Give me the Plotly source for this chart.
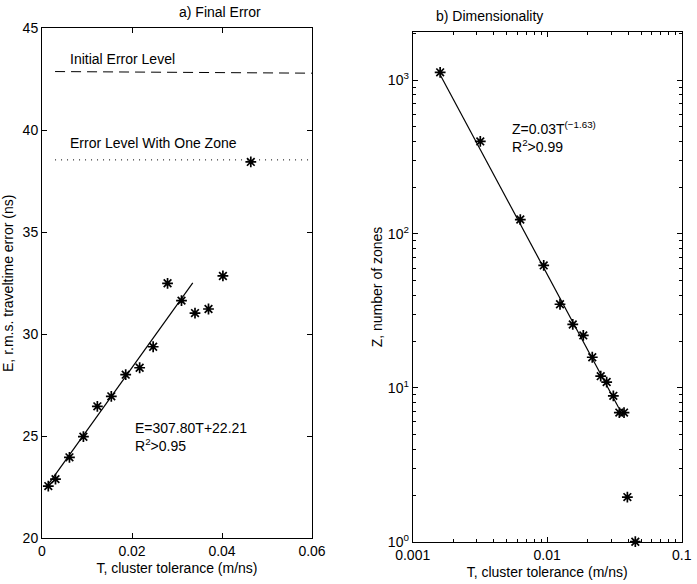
import plotly.graph_objects as go

# ---- Panel a) Final Error ----
t_err = [0.0014, 0.0030, 0.0061, 0.0092, 0.0123, 0.0154, 0.0186, 0.0217, 0.0247,
         0.0279, 0.0310, 0.0340, 0.0370, 0.0402, 0.0464]
e_err = [22.56, 22.90, 23.97, 24.98, 26.47, 26.96, 28.02, 28.36, 29.39,
         32.50, 31.65, 31.04, 31.24, 32.86, 38.45]
fit_a_t = [0.0014, 0.0335]
fit_a_slope, fit_a_icpt = 307.80, 22.21
initial_level_t = [0.0029, 0.06]
initial_level_e = [42.88, 42.80]
one_zone_t = [0.0029, 0.06]
one_zone_e = [38.55, 38.55]

# ---- Panel b) Dimensionality ----
t_dim = [0.00160, 0.00318, 0.00631, 0.00942, 0.01245, 0.01549, 0.01855, 0.02163,
         0.02500, 0.02768, 0.03103, 0.03438, 0.03725, 0.03945, 0.04520]
z_dim = [1122, 399, 124, 62.4, 34.9, 25.8, 21.9, 15.8, 11.9, 10.9, 8.87, 6.9, 6.9, 1.95, 1.0]
fit_b_t = [0.00160, 0.0340]
fit_b_a, fit_b_p = 0.03, -1.63

FONT = "Liberation Sans, Arial, Helvetica, sans-serif"
BLACK = "black"

fig = go.Figure()

# panel a traces
fig.add_trace(go.Scatter(x=initial_level_t, y=initial_level_e, mode="lines",
                         line=dict(color=BLACK, width=1, dash="10px,6px"),
                         xaxis="x", yaxis="y", showlegend=False))
fig.add_trace(go.Scatter(x=one_zone_t, y=one_zone_e, mode="lines",
                         line=dict(color=BLACK, width=1, dash="1px,5px"),
                         xaxis="x", yaxis="y", showlegend=False))
fig.add_trace(go.Scatter(x=fit_a_t, y=[fit_a_slope * t + fit_a_icpt for t in fit_a_t],
                         mode="lines", line=dict(color=BLACK, width=1.2),
                         xaxis="x", yaxis="y", showlegend=False))
fig.add_trace(go.Scatter(x=t_err, y=e_err, mode="markers",
                         marker=dict(symbol="asterisk-open", size=9, color=BLACK,
                                     line=dict(color=BLACK, width=1.7)),
                         xaxis="x", yaxis="y", showlegend=False))

# panel b traces
fig.add_trace(go.Scatter(x=fit_b_t, y=[fit_b_a * t ** fit_b_p for t in fit_b_t],
                         mode="lines", line=dict(color=BLACK, width=1.2),
                         xaxis="x2", yaxis="y2", showlegend=False))
fig.add_trace(go.Scatter(x=t_dim, y=z_dim, mode="markers",
                         marker=dict(symbol="asterisk-open", size=9, color=BLACK,
                                     line=dict(color=BLACK, width=1.7)),
                         xaxis="x2", yaxis="y2", showlegend=False, cliponaxis=False))

W, H = 697, 584
ax_common = dict(showline=True, linecolor=BLACK, linewidth=1, mirror="ticks",
                 ticks="inside", ticklen=5, tickcolor=BLACK, showgrid=False,
                 zeroline=False, automargin=False,
                 tickfont=dict(family=FONT, size=14, color=BLACK),
                 title_font=dict(family=FONT, size=14, color=BLACK))

fig.update_layout(
    width=W, height=H,
    margin=dict(l=0, r=0, t=0, b=0, autoexpand=False),
    paper_bgcolor="white", plot_bgcolor="white",
    font=dict(family=FONT, size=14, color=BLACK),
    xaxis=dict(**ax_common, domain=[42 / W, 312 / W], range=[0, 0.06],
               tickvals=[0, 0.02, 0.04, 0.06], ticktext=["0", "0.02", "0.04", "0.06"],
               title=dict(text="T, cluster tolerance (m/ns)", standoff=5),
               anchor="y"),
    yaxis=dict(**ax_common, domain=[1 - 538.3 / H, 1 - 28.3 / H], range=[20, 45],
               tickvals=[20, 25, 30, 35, 40, 45],
               title=dict(text="E, r.m.s. traveltime error (ns)", standoff=5),
               anchor="x"),
    xaxis2=dict(**ax_common, domain=[412.7 / W, 681.7 / W], type="log",
                range=[-3, -1], tickvals=[0.001, 0.01, 0.1],
                ticktext=["0.001", "0.01", "0.1"],
                minor=dict(ticks="inside", ticklen=3, tickcolor=BLACK,
                           tickvals=[k * 10 ** e for e in (-3, -2) for k in range(2, 10)]),
                title=dict(text="T, cluster tolerance (m/ns)", standoff=5),
                anchor="y2"),
    yaxis2=dict(**ax_common, domain=[1 - 541.7 / H, 1 - 32.3 / H], type="log",
                range=[0, 3.31], tickvals=[1, 10, 100, 1000],
                ticktext=["10<sup>0</sup>", "10<sup>1</sup>", "10<sup>2</sup>", "10<sup>3</sup>"],
                minor=dict(ticks="inside", ticklen=3, tickcolor=BLACK,
                           tickvals=[k * 10 ** e for e in (0, 1, 2, 3) for k in range(2, 10)]),
                title=dict(text="Z, number of zones", standoff=1),
                anchor="x2"),
)

annots = [
    dict(text="a) Final Error", xref="paper", yref="paper", x=177 / W, y=1 - 12 / H,
         yanchor="middle", showarrow=False, font=dict(size=14)),
    dict(text="b) Dimensionality", xref="paper", yref="paper", x=545 / W, y=1 - 16.5 / H,
         yanchor="middle", showarrow=False, font=dict(size=14)),
    dict(text="Initial Error Level", xref="x", yref="y", x=0.0058, y=43.5,
         xanchor="left", showarrow=False, font=dict(size=14)),
    dict(text="Error Level With One Zone", xref="x", yref="y", x=0.0058, y=39.4,
         xanchor="left", showarrow=False, font=dict(size=14)),
    dict(text="E=307.80T+22.21<br>R<sup>2</sup>>0.95", xref="x", yref="y", x=0.0202, y=24.95,
         xanchor="left", align="left", showarrow=False, font=dict(size=14)),
    dict(text="Z=0.03T<sup>(\u22121.63)</sup><br>R<sup>2</sup>>0.99", xref="x2", yref="y2",
         x=-2.28, y=2.63, xanchor="left", align="left", showarrow=False, font=dict(size=14)),
]
fig.update_layout(annotations=annots)

fig.write_html("out.html", config={"displayModeBar": False},
               post_script="document.body.style.margin='0px';document.body.style.overflow='hidden';")
